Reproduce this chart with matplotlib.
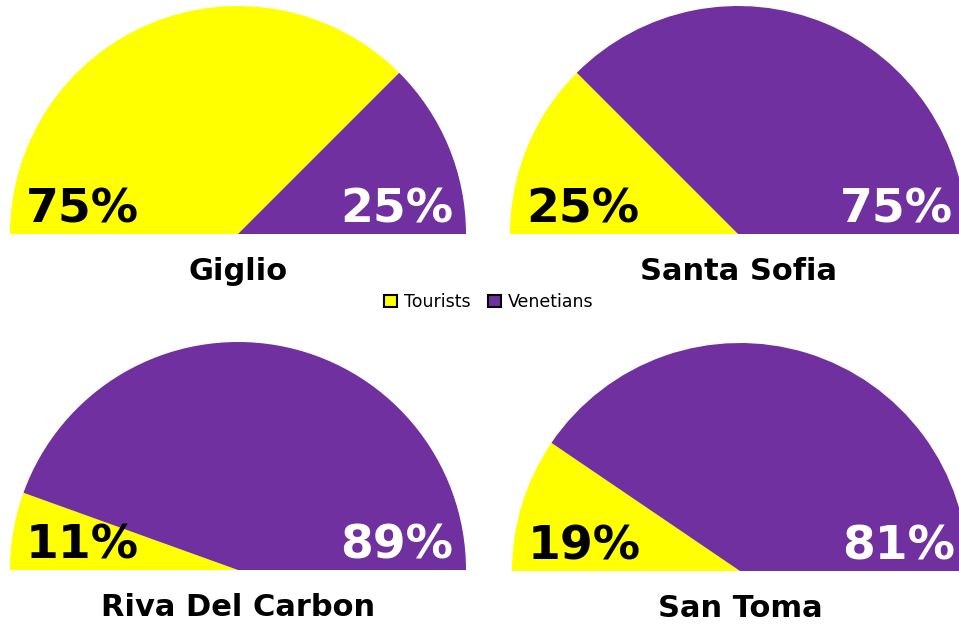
import matplotlib
matplotlib.use("Agg")
import matplotlib.pyplot as plt
from matplotlib.patches import Patch

# data
places = ['Giglio', 'Santa Sofia', 'Riva Del Carbon', 'San Toma']
tourists = [75, 25, 11, 19]
venetians = [25, 75, 89, 81]
series = ['Tourists', 'Venetians']
colors = ['#FFFF00', '#7030A0']

W, H = 959, 625
R = 228
# pie centres in pixels (x from left, y from top)
centres = [(238, 234), (738, 234), (238, 570), (740, 571)]

fig = plt.figure(figsize=(W / 100, H / 100), dpi=100)
fig.patch.set_facecolor('white')

for name, t, v, (cx, cy) in zip(places, tourists, venetians, centres):
    ax = fig.add_axes([(cx - R) / W, (H - cy) / H, 2 * R / W, R / H])
    wedges, _ = ax.pie([t, v, t + v], colors=colors + ['none'],
                       startangle=180, counterclock=False, radius=1,
                       wedgeprops=dict(linewidth=0))
    wedges[2].set_visible(False)
    ax.set_aspect('auto')
    ax.set_xlim(-1, 1)
    ax.set_ylim(0, 1)
    ax.axis('off')
    ax.text(-0.93, 0.05, f'{t}%', ha='left', va='baseline',
            fontsize=34, fontweight='bold', color='black')
    ax.text(0.945, 0.05, f'{v}%', ha='right', va='baseline',
            fontsize=34, fontweight='bold', color='white')
    ax.text(0, -0.2, name, ha='center', va='baseline', fontsize=22,
            fontweight='bold', color='black', clip_on=False)

handles = [Patch(facecolor=c, edgecolor='black', linewidth=1.5, label=s)
           for c, s in zip(colors, series)]
fig.legend(handles=handles, loc='center', bbox_to_anchor=(489 / W, 1 - 302 / H),
           ncol=2, frameon=False, fontsize=12.5, handlelength=0.75,
           handleheight=0.75, handletextpad=0.4, columnspacing=1.0)

fig.savefig('out.png', dpi=100)
